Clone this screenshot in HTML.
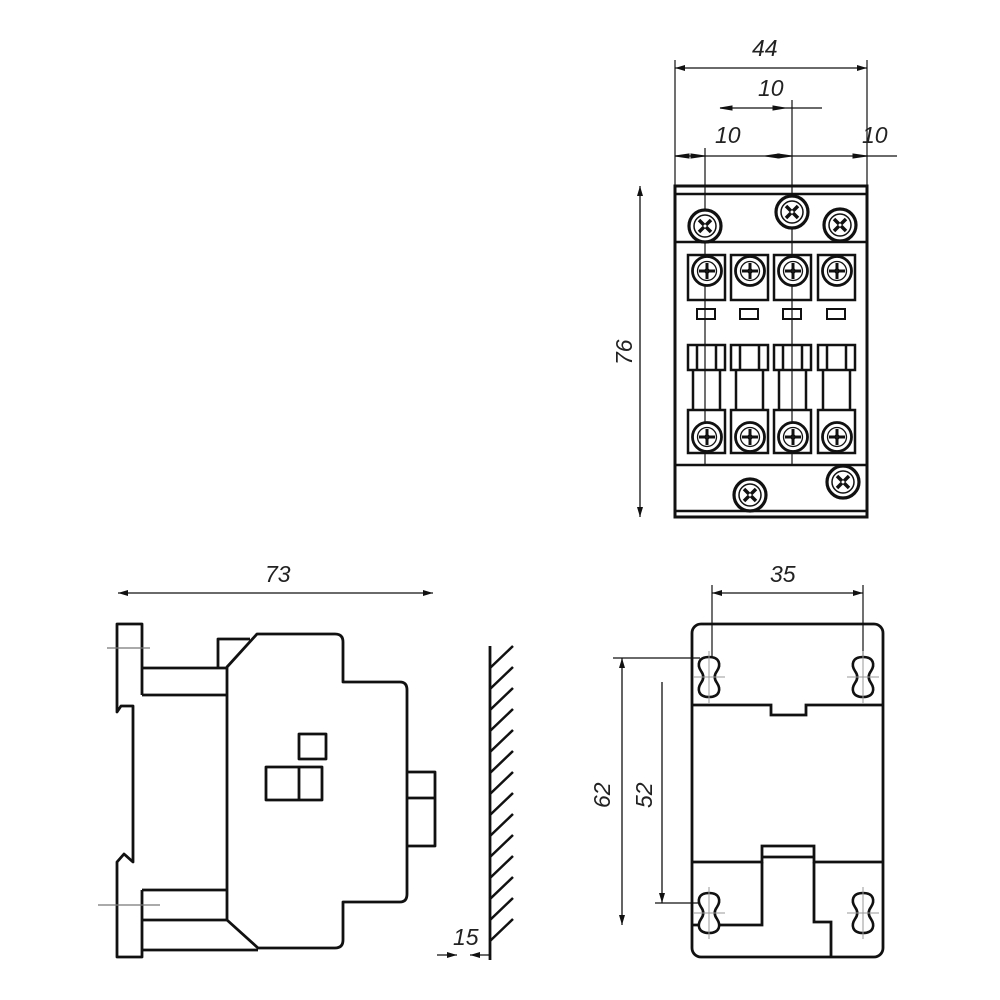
<!DOCTYPE html>
<html><head><meta charset="utf-8"><style>
html,body{margin:0;padding:0;background:#fff;}
svg{display:block}
text{font-family:"Liberation Sans",sans-serif;font-style:italic;font-size:23px;fill:#222}
</style></head><body>
<svg width="1000" height="1000" viewBox="0 0 1000 1000" xmlns="http://www.w3.org/2000/svg">
<defs>
<g id="sx"><circle r="16" fill="#fff" stroke="#111" stroke-width="3.2"/><circle r="11" fill="none" stroke="#111" stroke-width="1.5"/><path d="M-6,-6L6,6M6,-6L-6,6" stroke="#111" stroke-width="3.5"/><circle r="1.5" fill="#fff"/></g>
<g id="sp"><circle r="14.5" fill="#fff" stroke="#111" stroke-width="2.8"/><circle r="9.5" fill="none" stroke="#111" stroke-width="1.3"/><path d="M-8,0H8M0,-8V8" stroke="#111" stroke-width="3"/><circle r="1.5" fill="#fff"/></g>
<g id="blk" fill="none" stroke="#111" stroke-width="2.5">
<rect x="0" y="0" width="37" height="45"/>
<use href="#sp" x="19" y="16"/>
<rect x="9" y="54" width="18" height="10" stroke-width="2"/>
<rect x="0" y="90" width="37" height="25"/>
<path d="M9,90V115M28,90V115"/>
<path d="M5,115V155M32,115V155"/>
<rect x="0" y="155" width="37" height="43"/>
<use href="#sp" x="19" y="182"/>
</g>
<g id="slot" fill="#fff" stroke="#111" stroke-width="2.6"><path d="M0,-20 C11,-20 12,-12 8,-6 C5,-2 5,2 8,6 C12,12 11,20 0,20 C-11,20 -12,12 -8,6 C-5,2 -5,-2 -8,-6 C-12,-12 -11,-20 0,-20Z"/><path d="M-16,0H16M0,-26V26" stroke="#999" stroke-width="1"/></g>
<marker id="ar" viewBox="0 0 10 6" refX="10" refY="3" markerWidth="10" markerHeight="6" orient="auto-start-reverse" markerUnits="userSpaceOnUse"><path d="M0,0L10,3L0,6Z" fill="#111"/></marker>
</defs>

<!-- TOP VIEW -->
<g stroke="#111" fill="none">
<path d="M675,60V186M867,60V186" stroke-width="1.2"/>
<line x1="675" y1="68" x2="867" y2="68" stroke-width="1.3" marker-start="url(#ar)" marker-end="url(#ar)"/>
<line x1="720" y1="108" x2="822" y2="108" stroke-width="1.3"/>
<path d="M720,108l12,-2v4z M785,108l-12,-2v4z" fill="#111"/>
<line x1="675" y1="156" x2="897" y2="156" stroke-width="1.3"/>
<path d="M675,156l14,-2v4z M705,156l-14,-2v4z M765,156l14,-2v4z M792,156l-14,-2v4z M867,156l-14,-2v4z" fill="#111"/>
<path d="M792,100V465M705,148V465" stroke-width="1.2"/>
<line x1="640" y1="186" x2="640" y2="517" stroke-width="1.3" marker-start="url(#ar)" marker-end="url(#ar)"/>
<rect x="675" y="186" width="192" height="331" stroke-width="3"/>
<path d="M675,194H867M675,242H867M675,465H867M675,511H867" stroke-width="2.5"/>
</g>
<use href="#sx" x="705" y="226"/>
<use href="#sx" x="792" y="212"/>
<use href="#sx" x="840" y="225"/>
<use href="#sx" x="750" y="495"/>
<use href="#sx" x="843" y="482"/>
<use href="#blk" x="688" y="255"/>
<use href="#blk" x="731" y="255"/>
<use href="#blk" x="774" y="255"/>
<use href="#blk" x="818" y="255"/>
<text x="752" y="56">44</text>
<text x="758" y="96">10</text>
<text x="715" y="143">10</text>
<text x="862" y="143">10</text>
<text x="0" y="0" transform="translate(632,365) rotate(-90)">76</text>

<!-- SIDE VIEW -->
<g stroke="#111" fill="none" stroke-width="2.8" stroke-linejoin="round">
<line x1="118" y1="593" x2="433" y2="593" stroke-width="1.3" marker-start="url(#ar)" marker-end="url(#ar)"/>
<path d="M142,695V624H117V712L121,706H133V862L124,854L117,862V957H142V890"/>
<path d="M142,668H227M142,695H227M142,890H227M142,920H227M142,950H258"/>
<path d="M218,667V639H250"/>
<path d="M227,667L257,634H335Q343,634 343,642V682H400Q407,682 407,690V894Q407,902 400,902H343V940Q343,948 335,948H258L227,920Z"/>
<rect x="299" y="734" width="27" height="25"/>
<rect x="266" y="767" width="56" height="33"/>
<path d="M299,767V800"/>
<path d="M407,772H435V846H407M407,798H435"/>
<path d="M490,646V960"/>
<path d="M490,668l23,-22M490,689l23,-22M490,710l23,-22M490,731l23,-22M490,752l23,-22M490,773l23,-22M490,794l23,-22M490,815l23,-22M490,836l23,-22M490,857l23,-22M490,878l23,-22M490,899l23,-22M490,920l23,-22M490,941l23,-22" stroke-width="2.5"/>
<path d="M107,648H150M98,905H160" stroke="#777" stroke-width="1.2"/>
<line x1="437" y1="955" x2="457" y2="955" stroke-width="1.3" marker-end="url(#ar)"/>
<line x1="490" y1="955" x2="470" y2="955" stroke-width="1.3" marker-end="url(#ar)"/>
</g>
<text x="265" y="582">73</text>
<text x="453" y="945">15</text>

<!-- REAR VIEW -->
<g stroke="#111" fill="none" stroke-width="2.8">
<rect x="692" y="624" width="191" height="333" rx="9"/>
<path d="M692,705H771V715H806V705H883"/>
<path d="M692,862H762V846H814V862H883M762,857H814"/>
<path d="M762,862V925H692M814,862V922H831V957"/>
<path d="M712,585V680M863,585V680" stroke-width="1.2"/>
<line x1="712" y1="593" x2="863" y2="593" stroke-width="1.3" marker-start="url(#ar)" marker-end="url(#ar)"/>
<path d="M613,658H700M655,903H700" stroke-width="1.2"/>
<line x1="622" y1="658" x2="622" y2="925" stroke-width="1.3" marker-start="url(#ar)" marker-end="url(#ar)"/>
<line x1="662" y1="682" x2="662" y2="903" stroke-width="1.3" marker-end="url(#ar)"/>
</g>
<use href="#slot" x="709" y="677"/>
<use href="#slot" x="863" y="677"/>
<use href="#slot" x="709" y="913"/>
<use href="#slot" x="863" y="913"/>
<text x="770" y="582">35</text>
<text x="0" y="0" transform="translate(610,808) rotate(-90)">62</text>
<text x="0" y="0" transform="translate(652,808) rotate(-90)">52</text>
</svg>
</body></html>
